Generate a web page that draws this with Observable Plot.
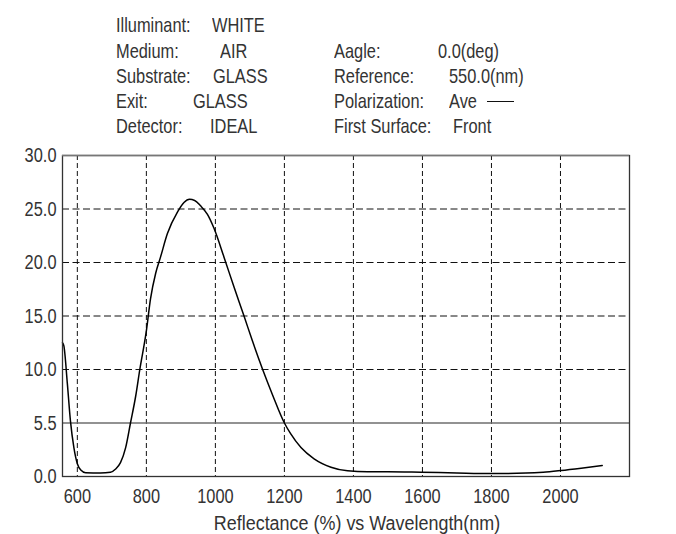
<!DOCTYPE html>
<html>
<head>
<meta charset="utf-8">
<script src="https://cdn.jsdelivr.net/npm/d3@7"></script>
<script src="https://cdn.jsdelivr.net/npm/@observablehq/plot@0.6"></script>
<style>
  html, body { margin: 0; padding: 0; background: #fff; }
  body { width: 676px; height: 534px; overflow: hidden; font-family: "Liberation Sans", Arial, sans-serif; color: #333; }
  #header { position: relative; width: 676px; height: 140px; font-size: 21px; line-height: 20px; }
  #header span { position: absolute; white-space: pre; transform: scaleX(0.78); transform-origin: left center; }
  #header .swatch { position: absolute; height: 0; border-top: 1.5px solid #111; }
  #chart svg { display: block; }
</style>
</head>
<body>
<div id="header"></div>
<div id="chart"></div>
<script>
// ---- Data ----
const wavelength = [557, 561, 571, 580, 590, 600, 610, 624, 667, 696, 711, 725, 740, 754, 769, 781, 800, 812, 827, 841, 861, 890, 909, 925, 940, 957, 977, 996, 1025, 1054, 1083, 1107, 1137, 1166, 1200, 1218, 1248, 1286, 1335, 1383, 1441, 1500, 1596, 1700, 1798, 1900, 1950, 2001, 2060, 2121];
const reflectance = [12.5, 12.2, 8.7, 5.2, 2.7, 1.2, 0.6, 0.35, 0.33, 0.4, 0.7, 1.3, 2.7, 5.0, 7.5, 10.0, 13.6, 16.6, 19.0, 20.5, 22.7, 24.7, 25.6, 25.9, 25.8, 25.3, 24.5, 23.2, 20.5, 17.7, 15.0, 12.7, 10.0, 7.6, 5.0, 4.0, 2.7, 1.65, 0.87, 0.53, 0.44, 0.45, 0.4, 0.33, 0.28, 0.32, 0.4, 0.56, 0.78, 1.03];
const xTicks = [600, 800, 1000, 1200, 1400, 1600, 1800, 2000];
const yTicks = [0, 5, 10, 15, 20, 25, 30];
const yTickLabels = ["0.0", "5.5", "10.0", "15.0", "20.0", "25.0", "30.0"];
const yGrid = [10, 15, 20, 25];
const refLineValue = [5];
const xTitle = "Reflectance (%) vs Wavelength(nm)";

const leftLabels = ["Illuminant:", "Medium:", "Substrate:", "Exit:", "Detector:"];
const leftValues = ["WHITE", "AIR", "GLASS", "GLASS", "IDEAL"];
const rightLabels = ["Aagle:", "Reference:", "Polarization:", "First Surface:"];
const rightValues = ["0.0(deg)", "550.0(nm)", "Ave", "Front"];

// ---- Header layout ----
const rowBaselines = [31, 57, 82, 107, 132];
const leftValueX = [212, 220, 213, 193, 210];
const rightValueX = [438, 449, 449, 453];
const header = document.getElementById("header");
function addSpan(text, x, baseline) {
  const s = document.createElement("span");
  s.textContent = text;
  s.style.left = x + "px";
  s.style.top = (baseline - 16.5) + "px";
  header.appendChild(s);
}
leftLabels.forEach((t, i) => addSpan(t, 116, rowBaselines[i]));
leftValues.forEach((t, i) => addSpan(t, leftValueX[i], rowBaselines[i]));
rightLabels.forEach((t, i) => addSpan(t, 334, rowBaselines[i + 1]));
rightValues.forEach((t, i) => addSpan(t, rightValueX[i], rowBaselines[i + 1]));
const sw = document.createElement("div");
sw.className = "swatch";
sw.style.left = "487px"; sw.style.width = "27px"; sw.style.top = (rowBaselines[3] - 6) + "px";
header.appendChild(sw);

// ---- Chart ----
const data = wavelength.map((w, i) => ({w, r: reflectance[i]}));
const font = '"Liberation Sans", Arial, sans-serif';

const chart = Plot.plot({
  width: 676,
  height: 394,
  marginTop: 15,
  marginBottom: 58,
  marginLeft: 62,
  marginRight: 47,
  style: {fontFamily: font, fontSize: "21px", color: "#333", background: "#fff"},
  x: {domain: [557, 2200]},
  y: {domain: [0, 30]},
  marks: [
    Plot.ruleX(xTicks, {stroke: "#111", strokeWidth: 1, strokeDasharray: "5,3"}),
    Plot.ruleY(yGrid, {stroke: "#111", strokeWidth: 1, strokeDasharray: "7,3.5"}),
    Plot.ruleY(refLineValue, {stroke: "#6e6e6e", strokeWidth: 1.6}),
    Plot.line(data, {x: "w", y: "r", curve: "monotone-x", stroke: "#000", strokeWidth: 1.5}),
    Plot.frame({stroke: "#333", strokeWidth: 1.3}),
    Plot.ruleY([30], {stroke: "#777", strokeWidth: 1.5}),
    Plot.axisX({ticks: xTicks, tickSize: 0, tickPadding: 12, label: null, fontSize: 21, tickFormat: d => String(d)}),
    Plot.axisY({ticks: yTicks, tickSize: 0, tickPadding: 6, label: null, fontSize: 21,
      tickFormat: d => yTickLabels[yTicks.indexOf(d)]}),
    Plot.text([xTitle], {frameAnchor: "bottom", dx: 11, dy: 53, fontSize: 21, fill: "#333", lineAnchor: "bottom", className: "xtitle"})
  ]
});
document.getElementById("chart").appendChild(chart);

// condense all chart text horizontally about its anchor point
d3.select(chart).selectAll("text").each(function() {
  const isTitle = this.textContent === xTitle;
  const k = isTitle ? 0.855 : 0.78;
  const x = +(this.getAttribute("x") || 0);
  const t = this.getAttribute("transform") || "";
  this.setAttribute("transform", `${t} translate(${x},0) scale(${k},1) translate(${-x},0)`);
});
</script>
</body>
</html>
